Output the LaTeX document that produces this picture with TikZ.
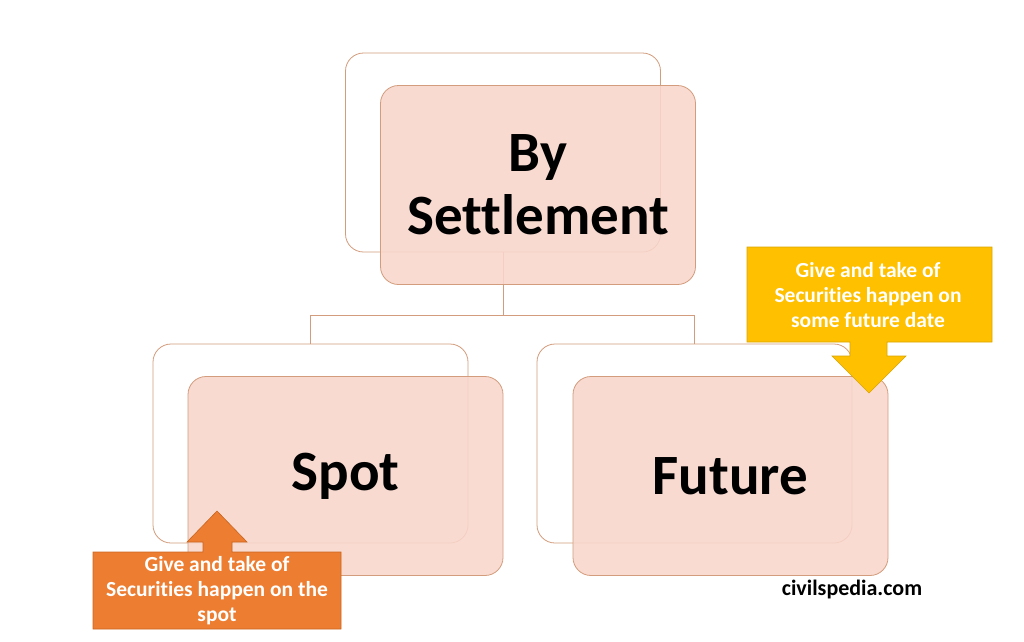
\documentclass[tikz,border=0pt]{standalone}
\usepackage{fontspec}
\setmainfont{Carlito}[Ligatures=NoCommon]
\definecolor{boxline}{HTML}{D39C7C}
\definecolor{boxfill}{HTML}{F8D6CB}
\definecolor{spotorange}{HTML}{ED7D31}
\definecolor{spotedge}{HTML}{C9651F}
\definecolor{futureyellow}{HTML}{FFC000}
\definecolor{futureedge}{HTML}{D9A400}
\begin{document}
\begin{tikzpicture}[x=1pt,y=-1pt,
  backbox/.style={draw=boxline, line width=0.8pt, fill=white, rounded corners=18pt, minimum width=315pt, minimum height=199pt, inner sep=0pt},
  frontbox/.style={draw=boxline, line width=0.8pt, fill=boxfill, fill opacity=0.88, text opacity=1, rounded corners=18pt, minimum width=315pt, minimum height=199pt, inner sep=0pt, align=center, font=\fontsize{57}{63}\selectfont\bfseries},
  link/.style={draw=boxline, line width=0.8pt},
  notetext/.style={text=white, align=center, inner sep=0pt, font=\fontsize{21.5}{25}\selectfont\bfseries}]
\useasboundingbox (0,0) rectangle (1024,641);

\node[backbox] (settleback) at (503,152.5) {};
\node[backbox] (spotback) at (310.5,443.5) {};
\node[backbox] (futureback) at (694.5,443.5) {};

\draw[link] (settleback.south) -- ++(0,63) -| (spotback.north);
\draw[link] (settleback.south) -- ++(0,63) -| (futureback.north);

\node[frontbox] (settle) at (538,185) {By\\ Settlement};
\node[frontbox] (spot) at (345.5,476) {Spot};
\node[frontbox] (future) at (730.5,476) {Future};

\draw[fill=spotorange, draw=spotedge, line width=0.6pt] (93,552) -- (203,552) -- (203,542) -- (187,542) -- (217,511) -- (247,542) -- (232,542) -- (232,552) -- (341,552) -- (341,629) -- (93,629) -- cycle;
\node[notetext] (spotnote) at (217,591) {Give and take of\\ Securities happen on the\\ spot};

\draw[fill=futureyellow, draw=futureedge, line width=0.6pt] (747,247) -- (992,247) -- (992,342) -- (887,342) -- (887,356) -- (906,356) -- (869,393) -- (832,356) -- (850,356) -- (850,342) -- (747,342) -- cycle;
\node[notetext] (futurenote) at (868,295) {Give and take of\\ Securities happen on\\ some future date};

\node[font=\fontsize{22}{26}\selectfont\bfseries] (site) at (852,589) {civilspedia.com};
\end{tikzpicture}
\end{document}
